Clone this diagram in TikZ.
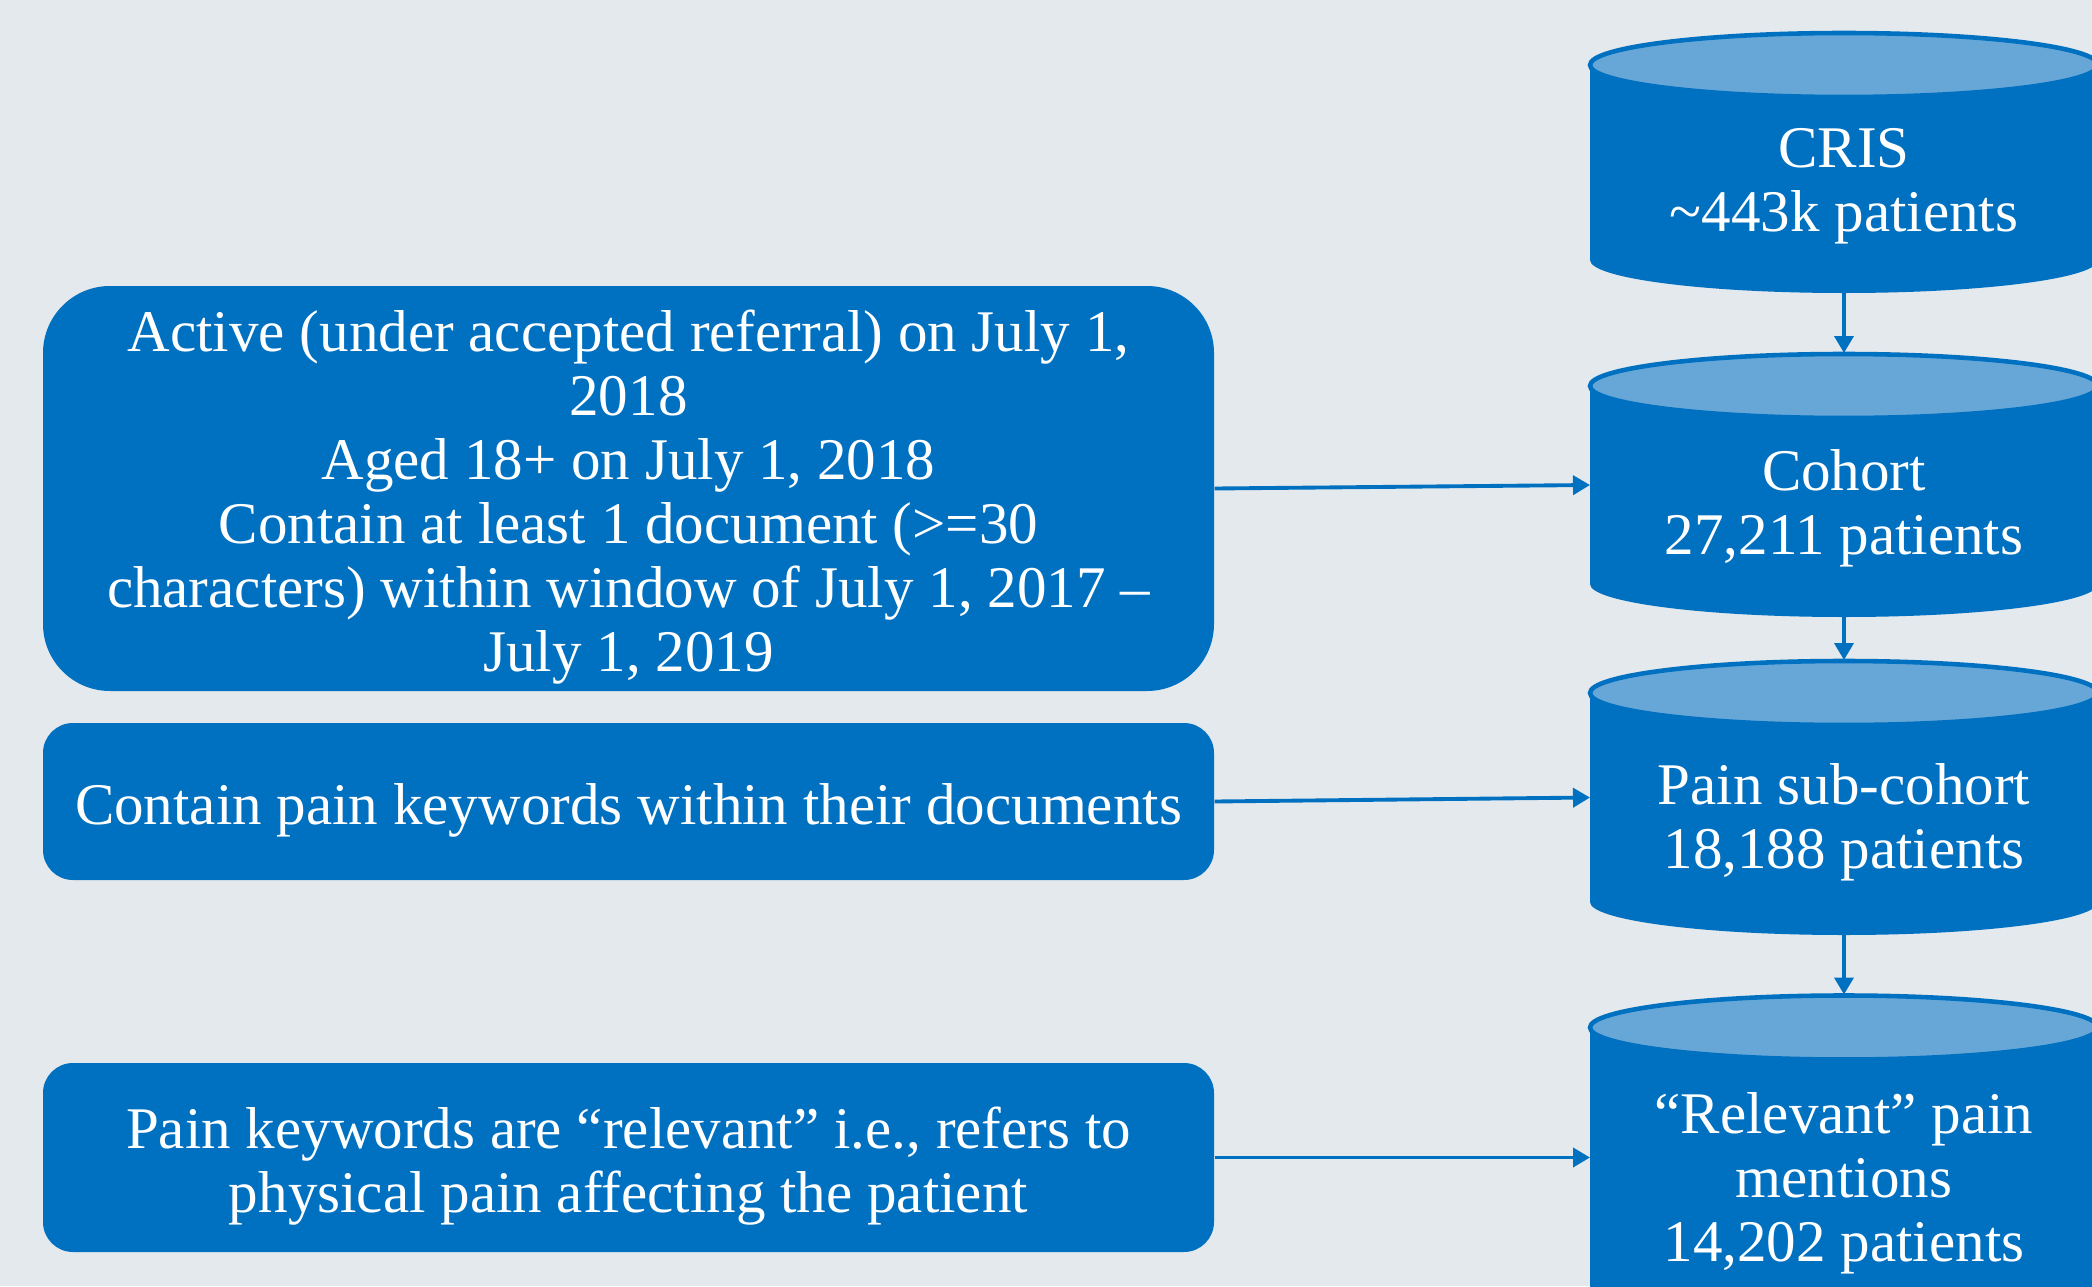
\documentclass[tikz,border=0pt]{standalone}
\usepackage{fontspec}
\setmainfont{Liberation Serif}
\usetikzlibrary{arrows.meta,calc}
\definecolor{boxblue}{RGB}{0,112,192}
\definecolor{toplight}{RGB}{102,167,216}
\definecolor{bgrey}{RGB}{228,233,237}
\tikzset{
  crit/.style={fill=boxblue,text=white,align=center,inner sep=0pt,minimum width=11.71cm,font=\fontsize{16.8}{18.2}\selectfont},
  dbcyl/.style={inner sep=0pt,outer sep=0pt,minimum width=5.08cm},
  cyltext/.style={text=white,align=center,font=\fontsize{16.8}{18.2}\selectfont},
  flow/.style={boxblue,line width=1.1pt,-{Triangle[width=0.19cm,length=0.17cm]}},
}
\begin{document}
\begin{tikzpicture}
\path[use as bounding box,fill=bgrey](0,0)rectangle(20.92,12.86); %background
\clip(0,0)rectangle(20.92,12.86);

%selection criteria
\node[crit,rounded corners=0.67cm,minimum height=4.05cm] (active) at (6.285,7.975)
  {\\[-0.06cm]Active (under accepted referral) on July 1,\\2018\\Aged 18+ on July 1, 2018\\Contain at least 1 document (>=30\\characters) within window of July 1, 2017 –\\July 1, 2019};
\node[crit,rounded corners=0.3cm,minimum height=1.57cm] (keywords) at (6.285,4.845)
  {\\[-0.06cm]Contain pain keywords within their documents};
\node[crit,rounded corners=0.3cm,minimum height=1.89cm] (relevance) at (6.285,1.285)
  {\\[-0.06cm]Pain keywords are “relevant” i.e., refers to\\physical pain affecting the patient};

%databases
\node[dbcyl,minimum height=2.61cm] (cris) at (18.44,11.235){};
\node[dbcyl,minimum height=2.64cm] (cohort) at (18.44,8.01){};
\node[dbcyl,minimum height=2.75cm] (painsub) at (18.44,4.885){};
\node[dbcyl,minimum height=3.26cm] (relevant) at (18.44,1.285){};
\foreach \c in {cris,cohort,painsub,relevant}{
  \fill[boxblue]($(\c.north west)+(0,-0.33)$)--($(\c.south west)+(0,0.33)$)
    arc(180:360:2.54 and 0.33)--($(\c.north east)+(0,-0.33)$)--cycle; %body
  \draw[boxblue,fill=toplight,line width=1.3pt]($(\c.north)+(0,-0.33)$)ellipse(2.54 and 0.32); %lid
}
\node[cyltext] at (18.44,11.0){CRIS\\\textasciitilde443k patients};
\node[cyltext] at (18.44,7.78){Cohort\\27,211 patients};
\node[cyltext] at (18.44,4.635){Pain sub-cohort\\18,188 patients};
\node[cyltext] at (18.44,1.025){“Relevant” pain\\mentions\\14,202 patients};

%arrows
\draw[flow](cris.south)--(cohort.north);
\draw[flow](cohort.south)--(painsub.north);
\draw[flow](painsub.south)--(relevant.north);
\draw[flow](active.east)--(cohort.west);
\draw[flow](keywords.east)--(painsub.west);
\draw[flow](relevance.east)--(relevant.west);
\end{tikzpicture}
\end{document}
